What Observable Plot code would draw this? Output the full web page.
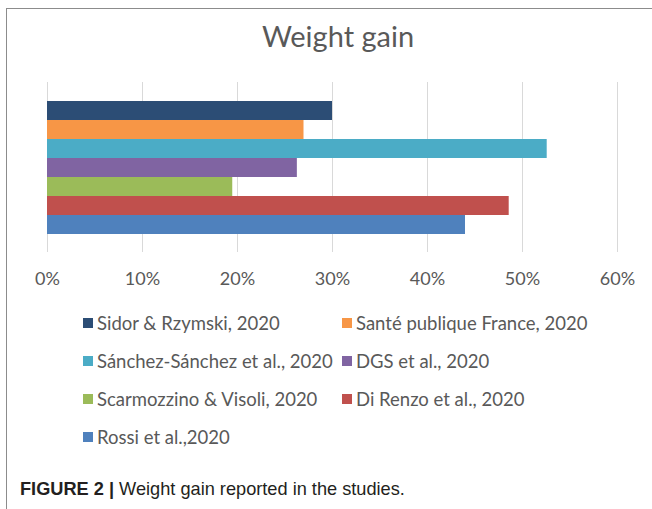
<!DOCTYPE html>
<html><head><meta charset="utf-8">
<script src="https://cdn.jsdelivr.net/npm/d3@7"></script>
<script src="https://cdn.jsdelivr.net/npm/@observablehq/plot@0.6"></script>
<style>
body{margin:0;width:652px;height:509px;overflow:hidden;background:#fff;position:relative;font-family:Lato,sans-serif}
#frame{position:absolute;left:6px;top:8px;width:700px;height:600px;border:1px solid #8c8c8c;box-sizing:border-box}
#title{position:absolute;left:0;width:676px;top:18px;text-align:center;font-size:29px;color:#595959;line-height:36px}
#chart{position:absolute;left:0;top:0}
.item{position:absolute;font-size:18.5px;color:#595959;white-space:nowrap;line-height:22px}
.sw{position:absolute;left:0;top:6px;width:10px;height:10px}
.lb{position:absolute;left:14px;top:0}
#caption{position:absolute;left:20px;top:478px;font-family:"Liberation Sans",Arial,sans-serif;font-size:18.2px;color:#231f20;white-space:nowrap;line-height:22px}
</style></head>
<body>
<div id="frame"></div>
<div id="title">Weight gain</div>
<div id="chart"></div>
<div id="legend"></div>
<div id="caption"><b>FIGURE 2 |</b> Weight gain reported in the studies.</div>
<script>
const studies = ["Sidor & Rzymski, 2020","Santé publique France, 2020","Sánchez-Sánchez et al., 2020","DGS et al., 2020","Scarmozzino & Visoli, 2020","Di Renzo et al., 2020","Rossi et al.,2020"];
const values = [30, 27, 52.6, 26.3, 19.5, 48.6, 44.0];
const colors = ["#2C4D75","#F79646","#4BACC6","#8064A2","#9BBB59","#C0504D","#4F81BD"];
const ticks = [0, 10, 20, 30, 40, 50, 60];

const data = studies.map((s, i) => ({study: s, value: values[i] / 100}));
const tickVals = ticks.map(t => t / 100);

const chart = Plot.plot({
  width: 652, height: 300,
  marginLeft: 47, marginRight: 35, marginTop: 82, marginBottom: 48,
  x: {domain: [0, 0.6], label: null},
  y: {domain: studies, range: [101, 234], padding: 0, axis: null},
  color: {domain: studies, range: colors},
  style: {fontFamily: "Lato, sans-serif", fontSize: "18px", color: "#595959", background: "transparent", overflow: "visible"},
  marks: [
    Plot.ruleX(tickVals, {stroke: "#d9d9d9", strokeWidth: 1}),
    Plot.barX(data, {x: "value", y: "study", fill: "study"}),
    Plot.axisX(tickVals, {tickSize: 0, tickPadding: 20, label: null, fontSize: 18, tickFormat: d => Math.round(d * 100) + "%"})
  ]
});
document.getElementById("chart").appendChild(chart);

const legend = document.getElementById("legend");
studies.forEach((s, i) => {
  const col = i % 2, row = Math.floor(i / 2);
  const item = document.createElement("div");
  item.className = "item";
  item.style.left = (83 + col * 259) + "px";
  item.style.top = (312 + row * 38) + "px";
  const sw = document.createElement("span");
  sw.className = "sw";
  sw.style.background = colors[i];
  const lb = document.createElement("span");
  lb.className = "lb";
  lb.textContent = s;
  item.appendChild(sw); item.appendChild(lb);
  legend.appendChild(item);
});
</script>
</body></html>
